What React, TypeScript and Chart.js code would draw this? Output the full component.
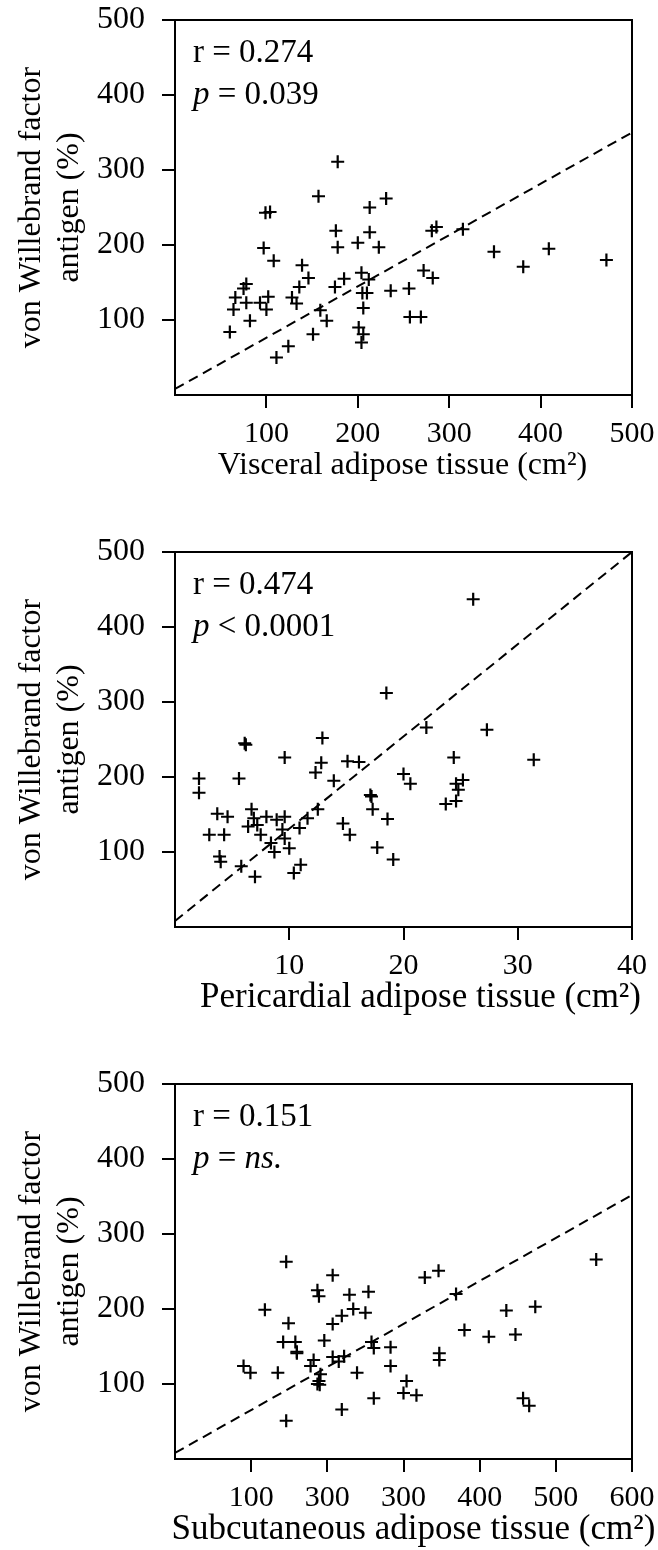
import React, { useEffect, useRef } from "react";
import { Chart, registerables } from "chart.js";
Chart.register(...registerables);

const FONT = '"Liberation Serif", "Times New Roman", serif';

// Panel 1: visceral adipose tissue
const vatX = [178, 157, 231, 213, 99, 104, 176, 213, 200, 178, 223, 97, 108, 139, 204, 146, 185, 212, 136, 175, 78, 75, 236, 205, 210, 66, 102, 128, 78, 93, 133, 64, 100, 206, 159, 166, 82, 60, 151, 201, 206, 204, 124, 111, 281, 286, 315, 349, 409, 381, 472, 272, 282, 256, 257, 269];
const vatY = [311, 265, 262, 250, 243, 244, 219, 217, 203, 197, 197, 196, 179, 173, 163, 156, 155, 154, 144, 144, 148, 142, 139, 136, 136, 130, 131, 130, 123, 123, 122, 114, 114, 116, 113, 99, 99, 84, 81, 90, 81, 70, 65, 50, 219, 224, 221, 191, 195, 171, 180, 166, 156, 142, 104, 104];

// Panel 2: pericardial adipose tissue
const patX = [18.5, 12.9, 6.1, 6.2, 9.6, 12.8, 15.1, 16.1, 12.3, 2.1, 5.6, 13.9, 2.1, 17.2, 17.1, 17.3, 18.6, 12.5, 11.6, 10.9, 9.6, 9.4, 6.7, 3.7, 4.6, 6.9, 8.0, 8.9, 6.4, 7.2, 7.5, 3.0, 4.3, 8.4, 9.6, 14.7, 15.3, 10.0, 8.7, 3.9, 4.0, 17.7, 19.1, 5.8, 7.0, 11.0, 10.4, 26.1, 22.0, 27.3, 24.4, 31.4, 20.0, 20.6, 25.2, 24.6, 24.8, 24.6, 23.7];
const patY = [312, 252, 245, 243, 226, 219, 221, 220, 206, 198, 198, 195, 179, 174, 176, 157, 144, 157, 145, 132, 147, 130, 157, 151, 147, 145, 147, 143, 134, 136, 123, 123, 123, 112, 118, 138, 123, 105, 100, 94, 87, 106, 90, 81, 67, 83, 72, 437, 266, 263, 226, 223, 204, 191, 196, 191, 183, 168, 164];

// Panel 3: subcutaneous adipose tissue
const satX = [146, 207, 187, 189, 229, 254, 118, 234, 250, 219, 207, 149, 142, 158, 196, 160, 160, 258, 261, 283, 207, 222, 215, 182, 178, 90, 99, 135, 283, 239, 191, 189, 187, 190, 261, 219, 146, 553, 328, 346, 369, 435, 473, 380, 412, 447, 347, 347, 304, 300, 317, 457, 465];
const satY = [263, 245, 225, 217, 219, 223, 199, 200, 195, 191, 180, 181, 156, 156, 158, 143, 141, 156, 148, 149, 136, 137, 130, 132, 124, 124, 115, 115, 124, 115, 113, 104, 100, 99, 81, 66, 51, 266, 242, 251, 220, 198, 203, 172, 163, 166, 141, 132, 104, 88, 85, 81, 71];

// Regression (dashed) lines: endpoints
const vatLineX = [0, 500];
const vatLineY = [8, 350];
const patLineX = [0, 40];
const patLineY = [8, 500];
const satLineX = [0, 600];
const satLineY = [8, 352];

// Axis ticks
const yTicks = [100, 200, 300, 400, 500];
const vatXTicks = [100, 200, 300, 400, 500];
const vatXTickLabels = ["100", "200", "300", "400", "500"];
const patXTicks = [10, 20, 30, 40];
const patXTickLabels = ["10", "20", "30", "40"];
const satXTicks = [100, 200, 300, 400, 500, 600];
const satXTickLabels = ["100", "300", "300", "400", "500", "600"];

const xMaxes = [500, 40, 600];
const xTitles = [
  "Visceral adipose tissue (cm\u00B2)",
  "Pericardial adipose tissue (cm\u00B2)",
  "Subcutaneous adipose tissue (cm\u00B2)",
];
const yTitle = ["von Willebrand factor", "antigen (%)"];

// Annotations
const rLabels = ["r = 0.274", "r = 0.474", "r = 0.151"];
const pOperators = [" = ", " < ", " = "];
const pValues = ["0.039", "0.0001", "ns."];
const pValueItalic = [false, false, true];

// per-panel style (x-title size and horizontal shift)
const xTitleSize = [32, 35, 35];
const xTitleShift = [-1, 17, 10];

const panels = [
  { xs: vatX, ys: vatY, lx: vatLineX, ly: vatLineY, ticks: vatXTicks, labels: vatXTickLabels },
  { xs: patX, ys: patY, lx: patLineX, ly: patLineY, ticks: patXTicks, labels: patXTickLabels },
  { xs: satX, ys: satY, lx: satLineX, ly: satLineY, ticks: satXTicks, labels: satXTickLabels },
];

const W = 658;
const H = 532;

function Panel({ idx }: { idx: number }) {
  const ref = useRef<HTMLCanvasElement | null>(null);
  useEffect(() => {
    const p = panels[idx];
    const pts = p.xs.map((x, i) => ({ x, y: p.ys[i] }));
    const line = p.lx.map((x, i) => ({ x, y: p.ly[i] }));
    const yFont = { family: FONT, size: 32, lineHeight: 1.2 };
    const xFont = { family: FONT, size: 30, lineHeight: 1.2 };
    const annot = {
      id: "annot" + idx,
      afterDraw(chart: any) {
        const { ctx, chartArea } = chart;
        ctx.save();
        ctx.strokeStyle = "#000";
        ctx.lineWidth = 2;
        ctx.strokeRect(chartArea.left, chartArea.top, chartArea.right - chartArea.left, chartArea.bottom - chartArea.top);
        ctx.fillStyle = "#000";
        // x-axis title
        ctx.textBaseline = "middle";
        ctx.textAlign = "center";
        ctx.font = `${xTitleSize[idx]}px ${FONT}`;
        ctx.fillText(xTitles[idx], (chartArea.left + chartArea.right) / 2 + xTitleShift[idx], chartArea.bottom + 71);
        // r / p annotation
        ctx.textBaseline = "alphabetic";
        ctx.textAlign = "left";
        const x0 = chartArea.left + 18;
        ctx.font = `33px ${FONT}`;
        ctx.fillText(rLabels[idx], x0, chartArea.top + 42);
        let x = x0;
        const y2 = chartArea.top + 84;
        ctx.font = `italic 33px ${FONT}`;
        ctx.fillText("p", x, y2);
        x += ctx.measureText("p").width;
        ctx.font = `33px ${FONT}`;
        ctx.fillText(pOperators[idx], x, y2);
        x += ctx.measureText(pOperators[idx]).width;
        ctx.font = `${pValueItalic[idx] ? "italic " : ""}33px ${FONT}`;
        ctx.fillText(pValues[idx], x, y2);
        ctx.restore();
      },
    };
    const chart = new Chart(ref.current as HTMLCanvasElement, {
      type: "scatter",
      data: {
        datasets: [
          {
            type: "line",
            data: line,
            borderColor: "#000",
            borderWidth: 2,
            borderDash: [10, 6],
            pointRadius: 0,
            fill: false,
          } as any,
          {
            data: pts,
            pointStyle: "cross",
            pointRadius: 6.5,
            pointBorderWidth: 2.2,
            borderColor: "#000",
            backgroundColor: "#000",
          },
        ],
      },
      options: {
        responsive: false,
        animation: false,
        devicePixelRatio: 1,
        layout: { autoPadding: false, padding: { top: 20, right: 26, left: 0, bottom: 0 } },
        plugins: { legend: { display: false }, tooltip: { enabled: false } },
        scales: {
          x: {
            type: "linear",
            min: 0,
            max: xMaxes[idx],
            afterBuildTicks: (s: any) => {
              s.ticks = p.ticks.map((v) => ({ value: v }));
            },
            afterFit: (s: any) => {
              s.height = 137;
              s.paddingLeft = 0;
              s.paddingRight = 0;
            },
            ticks: {
              color: "#000",
              font: xFont,
              padding: 8,
              maxRotation: 0,
              autoSkip: false,
              callback: (_v: any, i: number) => p.labels[i],
            },
            grid: { drawOnChartArea: false, drawTicks: true, tickLength: 13, color: "#000", lineWidth: 2 },
            border: { display: true, color: "#000", width: 2 },
            title: { display: false },
          },
          y: {
            type: "linear",
            min: 0,
            max: 500,
            afterBuildTicks: (s: any) => {
              s.ticks = yTicks.map((v) => ({ value: v }));
            },
            afterFit: (s: any) => {
              s.width = 175;
              s.paddingTop = 0;
              s.paddingBottom = 0;
            },
            ticks: { color: "#000", font: yFont, padding: 17, autoSkip: false },
            grid: { drawOnChartArea: false, drawTicks: true, tickLength: 13, color: "#000", lineWidth: 2 },
            border: { display: true, color: "#000", width: 2 },
            title: {
              display: true,
              text: yTitle,
              color: "#000",
              font: { family: FONT, size: 32, lineHeight: 1.2 },
              padding: { top: 12, bottom: 0 },
            },
          },
        },
      } as any,
      plugins: [annot],
    });
    return () => chart.destroy();
  }, [idx]);
  return (
    <canvas
      ref={ref}
      width={W}
      height={H}
      style={{ position: "absolute", left: 0, top: idx * H, width: W, height: H, display: "block" }}
    />
  );
}

export default function App() {
  return (
    <div style={{ position: "absolute", left: 0, top: 0, width: W, height: 1550, background: "#fff" }}>
      <Panel idx={0} />
      <Panel idx={1} />
      <Panel idx={2} />
    </div>
  );
}
